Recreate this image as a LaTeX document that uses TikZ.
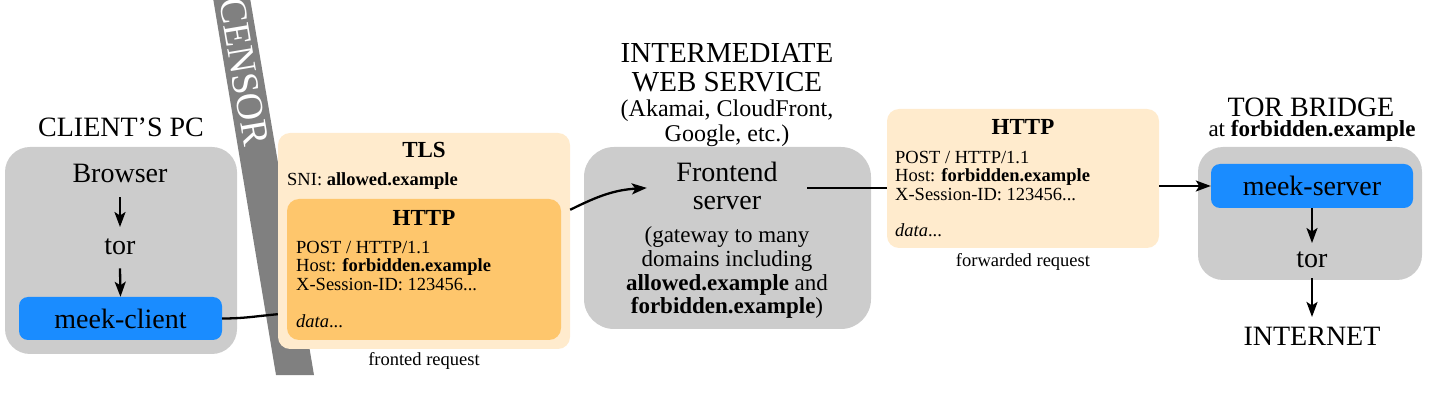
\documentclass[tikz,border=0pt]{standalone}
\usepackage{fontspec}
\setmainfont{Liberation Serif}
\usetikzlibrary{arrows.meta}
\definecolor{boxgray}{HTML}{CCCCCC}
\definecolor{censorgray}{HTML}{808080}
\definecolor{meekblue}{HTML}{1A8CFF}
\definecolor{lightorange}{HTML}{FFEBCD}
\definecolor{darkorange}{HTML}{FEC66C}
\begin{document}
\begin{tikzpicture}[x=1pt,y=-1pt,
  panel/.style={rectangle, inner sep=0pt, draw=none},
  txt/.style={inner sep=0pt, anchor=base},
  ltxt/.style={inner sep=0pt, anchor=base west},
  big/.style={font=\fontsize{28}{30}\selectfont},
  bigger/.style={font=\fontsize{29}{31}\selectfont},
  mid/.style={font=\fontsize{24}{26}\selectfont},
  gate/.style={font=\fontsize{23}{25}\selectfont},
  hdr/.style={font=\bfseries\fontsize{23}{25}\selectfont},
  code/.style={font=\fontsize{18.5}{20}\selectfont},
  arr/.style={line width=2.3pt, -{Stealth[length=15pt,width=11pt,inset=3.5pt]}},
  conn/.style={line width=2.3pt}
]
\useasboundingbox (0,0) rectangle (1429,411);

% censor band
\fill[censorgray] (213,-2) -- (250,-2) -- (314,375) -- (276,375) -- cycle;
\node[rotate=-80.4, text=white, inner sep=0pt, font=\fontsize{38}{38}\selectfont] (censor) at (244,72) {CENSOR};

% containers
\node[panel, fill=boxgray, minimum width=232pt, minimum height=207pt, rounded corners=25pt] (clientbox) at (121,250.5) {};
\node[panel, fill=boxgray, minimum width=287pt, minimum height=182pt, rounded corners=30pt] (febox) at (727.5,238) {};
\node[panel, fill=boxgray, minimum width=224pt, minimum height=133pt, rounded corners=25pt] (bridgebox) at (1310,213.5) {};
\node[panel, fill=lightorange, minimum width=292pt, minimum height=216pt, rounded corners=12pt] (tls) at (424,241) {};
\node[panel, fill=darkorange, minimum width=274pt, minimum height=141pt, rounded corners=12pt] (inner) at (424,269.5) {};
\node[panel, fill=lightorange, minimum width=272pt, minimum height=139pt, rounded corners=12pt] (fwd) at (1023,178.5) {};
\node[panel, fill=meekblue, minimum width=203pt, minimum height=43pt, rounded corners=9pt, big] (meekc) at (120.5,318.5) {meek-client};
\node[panel, fill=meekblue, minimum width=202pt, minimum height=44pt, rounded corners=9pt, big] (mserver) at (1312,186) {meek-server};

% client side
\node[txt, big] (clienttitle) at (121,137) {CLIENT’S PC};
\node[txt, big] (browser) at (120,183) {Browser};
\node[txt, big] (tor1) at (120,255) {tor};

% TLS fronted request
\node[txt, hdr] (tlshdr) at (424,158) {TLS};
\node[ltxt, code] (sni) at (287,186) {SNI: \textbf{allowed.example}};
\node[txt, hdr] (httphdr1) at (424,226) {HTTP};
\node[ltxt, code] (post1) at (296,253.3) {POST / HTTP/1.1};
\node[ltxt, code] (host1) at (296,271.7) {Host: \textbf{forbidden.example}};
\node[ltxt, code] (sess1) at (296,290.3) {X-Session-ID: 123456...};
\node[ltxt, code] (data1) at (296,327.3) {\textit{data}...};
\node[txt, code] (fronted) at (424,365.5) {fronted request};

% intermediate web service
\node[txt, bigger] (iws1) at (727,63) {INTERMEDIATE};
\node[txt, bigger] (iws2) at (727,92) {WEB SERVICE};
\node[txt, mid] (iws3) at (727,117) {(Akamai, CloudFront,};
\node[txt, mid] (iws4) at (727,142) {Google, etc.)};
\node[txt, big, minimum width=160pt] (fe) at (727,182) {Frontend};
\node[txt, big] (fe2) at (727,210) {server};
\node[txt, gate] (gw1) at (727,243) {(gateway to many};
\node[txt, gate] (gw2) at (727,267) {domains including};
\node[txt, gate] (gw3) at (727,290.5) {\textbf{allowed.example} and};
\node[txt, gate] (gw4) at (727,313.5) {\textbf{forbidden.example})};

% forwarded request
\node[txt, hdr] (httphdr2) at (1023,135) {HTTP};
\node[ltxt, code] (post2) at (895,163.3) {POST / HTTP/1.1};
\node[ltxt, code] (host2) at (895,181.8) {Host: \textbf{forbidden.example}};
\node[ltxt, code] (sess2) at (895,200.4) {X-Session-ID: 123456...};
\node[ltxt, code] (data2) at (895,237) {\textit{data}...};
\node[txt, code] (forwarded) at (1023,266.7) {forwarded request};

% bridge
\node[txt, big] (bridgetitle) at (1311,117) {TOR BRIDGE};
\node[txt, font=\fontsize{23}{25}\selectfont] (bridgesub) at (1312,137) {at \textbf{forbidden.example}};
\node[txt, big] (tor2) at (1312,268) {tor};
\node[txt, big] (inet) at (1312,345) {INTERNET};

% connectors
\draw[arr] ([yshift=-14pt]browser.south) -- ([yshift=12pt]tor1.north);
\draw[arr] ([yshift=-13pt]tor1.south) -- (meekc.north);
\coordinate (tlsin) at ([yshift=35pt]tls.south west);
\draw[conn] (meekc.east) .. controls +(22,0) and +(-22,2) .. (tlsin);
\coordinate (tlsout) at ([yshift=-77pt]tls.north east);
\draw[arr] (tlsout) .. controls +(28,-14) and +(-32,2) .. ([yshift=-15.5pt]fe.west);
\coordinate (feout) at ([yshift=-15.5pt]fe.east);
\draw[conn] (feout) -- (feout -| fwd.west);
\draw[arr] (fwd.east |- mserver.west) -- (mserver.west);
\draw[arr] (mserver.south) -- ([yshift=9pt]tor2.north);
\draw[arr] ([yshift=-10pt]tor2.south) -- ([yshift=9.5pt]inet.north);
\end{tikzpicture}
\end{document}
